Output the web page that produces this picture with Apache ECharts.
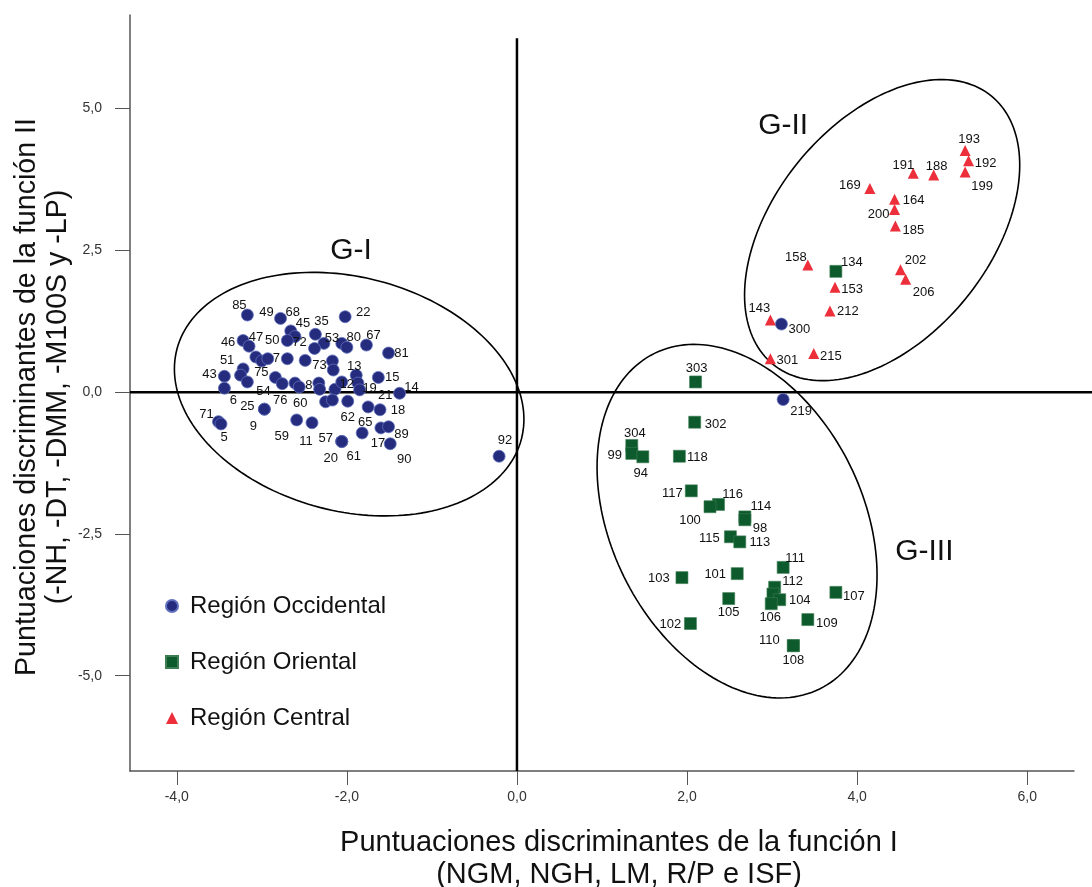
<!DOCTYPE html>
<html>
<head>
<meta charset="utf-8">
<title>Puntuaciones discriminantes</title>
<script src="https://cdn.jsdelivr.net/npm/echarts@6/dist/echarts.min.js"></script>
<style>
  html, body { margin: 0; padding: 0; background: #fff; }
  #chart { width: 1092px; height: 887px; }
</style>
</head>
<body>
<div id="chart"></div>
<script>
// Discriminant scores: [case id, función I, función II]
const occidental = [
  ['85', -3.17, 1.36], ['49', -2.78, 1.30], ['22', -2.02, 1.33], ['68', -2.66, 1.08],
  ['45', -2.61, 0.98], ['50', -2.70, 0.91], ['46', -3.22, 0.91], ['47', -3.15, 0.81],
  ['35', -2.37, 1.02], ['53', -2.27, 0.86], ['72', -2.38, 0.77], ['80', -2.06, 0.86],
  ['', -2.00, 0.79], ['67', -1.77, 0.83], ['81', -1.51, 0.69], ['', -3.07, 0.62],
  ['', -3.00, 0.55], ['', -2.93, 0.59], ['7', -2.70, 0.59], ['', -2.49, 0.56],
  ['73', -2.17, 0.55], ['', -2.16, 0.39], ['51', -3.22, 0.41], ['', -3.25, 0.30],
  ['75', -3.17, 0.18], ['43', -3.44, 0.28], ['6', -3.44, 0.07], ['54', -2.84, 0.26],
  ['76', -2.76, 0.15], ['', -2.61, 0.16], ['60', -2.56, 0.09], ['8', -2.33, 0.16],
  ['', -2.32, 0.05], ['', -2.14, 0.05], ['12', -2.06, 0.18], ['13', -1.89, 0.30],
  ['', -1.87, 0.16], ['19', -1.85, 0.04], ['15', -1.63, 0.26], ['14', -1.38, -0.02],
  ['', -2.25, -0.17], ['', -2.17, -0.14], ['62', -1.99, -0.16], ['21', -1.75, -0.26],
  ['18', -1.61, -0.31], ['25', -2.97, -0.30], ['9', -2.97, -0.30], ['71', -3.51, -0.52],
  ['5', -3.48, -0.56], ['59', -2.59, -0.49], ['11', -2.41, -0.54], ['65', -1.82, -0.72],
  ['17', -1.60, -0.63], ['89', -1.51, -0.61], ['57', -2.06, -0.87], ['20', -2.06, -0.87],
  ['61', -2.06, -0.87], ['90', -1.49, -0.91], ['92', -0.21, -1.13],
  ['300', 3.11, 1.20], ['219', 3.13, -0.13]
];

const oriental = [
  ['303', 2.10, 0.18], ['302', 2.09, -0.53], ['304', 1.35, -0.94], ['99', 1.35, -1.08],
  ['94', 1.48, -1.14], ['118', 1.91, -1.13], ['117', 2.05, -1.74], ['116', 2.37, -1.98],
  ['100', 2.27, -2.02], ['114', 2.68, -2.20], ['98', 2.68, -2.25], ['115', 2.51, -2.55],
  ['113', 2.62, -2.64], ['111', 3.13, -3.09], ['103', 1.94, -3.27], ['101', 2.59, -3.20],
  ['112', 3.03, -3.44], ['', 3.01, -3.56], ['104', 3.09, -3.66], ['106', 2.99, -3.73],
  ['105', 2.49, -3.64], ['107', 3.75, -3.53], ['109', 3.42, -4.01], ['102', 2.04, -4.08],
  ['110', 3.25, -4.47], ['108', 3.25, -4.47], ['134', 3.75, 2.13]
];

const central = [
  ['193', 5.27, 4.26], ['192', 5.31, 4.08], ['199', 5.27, 3.88], ['191', 4.66, 3.86],
  ['188', 4.90, 3.83], ['169', 4.15, 3.59], ['164', 4.44, 3.40], ['200', 4.44, 3.22],
  ['185', 4.45, 2.93], ['158', 3.42, 2.24], ['202', 4.51, 2.16], ['206', 4.57, 1.99],
  ['153', 3.74, 1.85], ['143', 2.98, 1.27], ['212', 3.68, 1.43], ['301', 2.98, 0.59],
  ['215', 3.49, 0.68]
];

const seriesNames = ['Región Occidental', 'Región Oriental', 'Región Central'];

const xTicks = [-4, -2, 0, 2, 4, 6];
const yTicks = [-5, -2.5, 0, 2.5, 5];
const X_MIN = -4.55, X_MAX = 6.55, Y_MIN = -6.68, Y_MAX = 6.65;
const REF_TOP = 6.24; // upper end of the vertical reference line

const xTitle = 'Puntuaciones discriminantes de la función I\n(NGM, NGH, LM, R/P e ISF)';
const yTitle = 'Puntuaciones discriminantes de la función II\n(-NH, -DT, -DMM, -M100S y -LP)';

const groupNames = ['G-I', 'G-II', 'G-III'];
const groupTagAt = [[-1.95, 2.50], [3.13, 4.70], [4.79, -2.82]];
const ellipseCenter = [[-1.973, -0.035], [4.294, 2.857], [2.588, -2.275]];
// outline of each group envelope, in screen pixels: semi-axes and tilt (deg)
const ellipseShape = [
  { rx: 178, ry: 117, tilt: 14.6 },
  { rx: 173, ry: 108, tilt: -50.9 },
  { rx: 187, ry: 126, tilt: 63.8 }
];

// where each case number sits relative to its marker (px)
const labelNudge = {
  '85': [-8, -10], '49': [-14, -6], '22': [18, -4], '68': [2, -18], '45': [8, -13],
  '50': [-15, 0], '46': [-15, 2], '47': [7, -9], '35': [6, -13], '53': [8, -5],
  '72': [-15, -6], '80': [12, -6], '67': [7, -10], '81': [13, 0], '7': [-11, 0],
  '73': [-13, 4], '51': [-16, -8], '75': [14, -10], '43': [-15, -2], '6': [9, 12],
  '54': [-12, 14], '76': [-2, 17], '60': [1, 16], '8': [-10, 2], '12': [5, 2],
  '13': [-2, -9], '19': [10, -1], '15': [14, 0], '14': [12, -6], '62': [0, 16],
  '21': [17, -11], '18': [18, 1], '25': [-17, -3], '9': [-11, 17], '71': [-12, -7],
  '5': [3, 14], '59': [-15, 16], '11': [-6, 19], '65': [3, -11], '17': [-3, 16],
  '89': [13, 8], '57': [-16, -3], '20': [-11, 17], '61': [12, 15], '90': [14, 16],
  '92': [6, -16], '300': [18, 5], '219': [18, 12],
  '303': [1, -14], '302': [21, 2], '304': [3, -12], '99': [-17, 2], '94': [-2, 17],
  '118': [18, 1], '117': [-19, 3], '116': [14, -10], '100': [-20, 14], '114': [16, -10],
  '98': [15, 9], '115': [-21, 2], '113': [20, 1], '111': [12, -9], '103': [-23, 1],
  '101': [-22, 1], '112': [18, -6], '104': [20, 1], '106': [-1, 14], '105': [0, 14],
  '107': [18, 4], '109': [19, 4], '102': [-20, 1], '110': [-24, -5], '108': [0, 15],
  '134': [16, -9],
  '193': [4, -11], '192': [17, 3], '199': [17, 14], '191': [-10, -8], '188': [3, -9],
  '169': [-20, -3], '164': [19, 1], '200': [-16, 5], '185': [18, 4], '158': [-12, -8],
  '202': [15, -9], '206': [18, 13], '153': [17, 2], '143': [-11, -12], '212': [18, 0],
  '301': [17, 2], '215': [17, 3]
};

const FONT = '"Liberation Sans", Arial, Helvetica, sans-serif';
const comma = v => Number(v).toFixed(1).replace('.', ',');

function toItems(rows) {
  return rows.map(r => ({
    name: r[0],
    value: [r[1], r[2]],
    label: labelNudge[r[0]] ? { offset: labelNudge[r[0]] } : { show: false }
  }));
}

const caseLabel = {
  show: true,
  position: 'inside',
  formatter: '{b}',
  fontFamily: FONT,
  fontSize: 13,
  color: '#111'
};

const chart = echarts.init(document.getElementById('chart'), null, { renderer: 'canvas' });

chart.setOption({
  animation: false,
  backgroundColor: '#ffffff',
  grid: { left: 130, right: 18, top: 15, bottom: 116 },
  legend: {
    orient: 'vertical',
    left: 160,
    top: 589,
    itemWidth: 12,
    itemHeight: 12,
    itemGap: 32,
    selectedMode: false,
    textStyle: { fontFamily: FONT, fontSize: 24, lineHeight: 24, color: '#111', padding: [0, 0, 0, 7] },
    data: [
      { name: seriesNames[0], icon: 'circle' },
      { name: seriesNames[1], icon: 'rect' },
      { name: seriesNames[2], icon: 'triangle' }
    ]
  },
  graphic: [
    {
      type: 'text',
      x: 619,
      y: 827,
      style: { text: xTitle, fontFamily: FONT, fontSize: 29, lineHeight: 32, fill: '#111',
               align: 'center', verticalAlign: 'top' }
    },
    {
      type: 'text',
      x: 43,
      y: 397,
      rotation: Math.PI / 2,
      style: { text: yTitle, fontFamily: FONT, fontSize: 28.6, lineHeight: 31, fill: '#111',
               align: 'center', verticalAlign: 'middle' }
    }
  ],
  xAxis: {
    type: 'value',
    min: X_MIN,
    max: X_MAX,
    splitLine: { show: false },
    axisLine: { show: true, onZero: false, lineStyle: { color: '#555', width: 1.5 } },
    axisTick: { show: true, customValues: xTicks, length: 14, lineStyle: { color: '#555', width: 1 } },
    axisLabel: { customValues: xTicks, formatter: comma, margin: 19, fontFamily: FONT, fontSize: 14, color: '#333' }
  },
  yAxis: {
    type: 'value',
    min: Y_MIN,
    max: Y_MAX,
    splitLine: { show: false },
    axisLine: { show: true, onZero: false, lineStyle: { color: '#555', width: 1.5 } },
    axisTick: { show: true, customValues: yTicks, length: 15, lineStyle: { color: '#555', width: 1 } },
    axisLabel: { customValues: yTicks, formatter: comma, margin: 28, fontFamily: FONT, fontSize: 14, color: '#333' }
  },
  series: [
    {
      // reference axes through the origin
      type: 'custom',
      silent: true,
      z: 1,
      data: [[0, 0]],
      renderItem: function (params, api) {
        const o = api.coord([api.value(0), api.value(1)]);
        const top = api.coord([0, REF_TOP]);
        const bottom = api.coord([0, Y_MIN]);
        const left = api.coord([X_MIN, 0]);
        return {
          type: 'group',
          children: [
            { type: 'line', shape: { x1: o[0], y1: top[1], x2: o[0], y2: bottom[1] },
              style: { stroke: '#000', lineWidth: 2.5 } },
            { type: 'line', shape: { x1: left[0], y1: o[1], x2: api.getWidth(), y2: o[1] },
              style: { stroke: '#000', lineWidth: 2.5 } }
          ]
        };
      }
    },
    {
      // group envelopes
      type: 'custom',
      silent: true,
      z: 2,
      data: ellipseCenter,
      renderItem: function (params, api) {
        const c = api.coord([api.value(0), api.value(1)]);
        const s = ellipseShape[params.dataIndex];
        const phi = s.tilt * Math.PI / 180;
        const pts = [];
        for (let i = 0; i < 180; i++) {
          const t = i / 180 * Math.PI * 2;
          const ex = s.rx * Math.cos(t), ey = s.ry * Math.sin(t);
          pts.push([c[0] + ex * Math.cos(phi) - ey * Math.sin(phi),
                    c[1] + ex * Math.sin(phi) + ey * Math.cos(phi)]);
        }
        return { type: 'polygon', shape: { points: pts },
                 style: { fill: 'none', stroke: '#000', lineWidth: 1.6 } };
      }
    },
    {
      // group tags
      type: 'custom',
      silent: true,
      z: 3,
      data: groupTagAt,
      renderItem: function (params, api) {
        const p = api.coord([api.value(0), api.value(1)]);
        return { type: 'text', x: p[0], y: p[1],
                 style: { text: groupNames[params.dataIndex], fill: '#111', fontSize: 30,
                          fontFamily: FONT, align: 'center', verticalAlign: 'middle' } };
      }
    },
    {
      name: seriesNames[0],
      type: 'scatter',
      symbol: 'circle',
      symbolSize: 12,
      z: 5,
      itemStyle: { color: '#252c7d', borderColor: '#6170bd', borderWidth: 0.8, opacity: 1 },
      label: caseLabel,
      data: toItems(occidental)
    },
    {
      name: seriesNames[1],
      type: 'scatter',
      symbol: 'rect',
      symbolSize: 12,
      z: 5,
      itemStyle: { color: '#0d5a2c', borderColor: '#3f7d55', borderWidth: 0.6, opacity: 1 },
      label: caseLabel,
      data: toItems(oriental)
    },
    {
      name: seriesNames[2],
      type: 'scatter',
      symbol: 'triangle',
      symbolSize: 11,
      z: 5,
      itemStyle: { color: '#ec2f3b', opacity: 1 },
      label: caseLabel,
      data: toItems(central)
    }
  ]
});
</script>
</body>
</html>
